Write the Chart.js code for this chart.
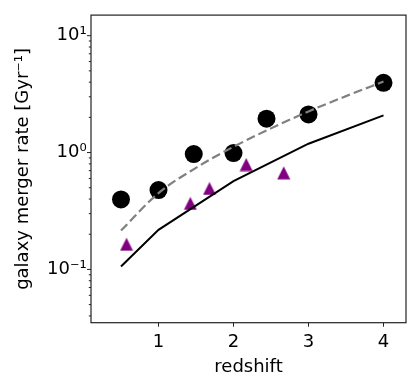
<!DOCTYPE html>
<html>
<head>
<meta charset="utf-8">
<script src="https://cdn.jsdelivr.net/npm/chart.js@4"></script>
<style>
  html, body { margin: 0; padding: 0; background: #fff; }
  #wrap { width: 415px; height: 380px; }
</style>
</head>
<body>
<div id="wrap"><canvas id="canvas" width="415" height="380"></canvas></div>
<script>
// observed merger rates (circles)
const obsZ = [0.5, 1.0, 1.47, 2.0, 2.44, 3.0, 4.0];
const obsRate = [0.397, 0.477, 0.97, 0.99, 1.95, 2.12, 3.95];
// second sample (purple triangles)
const triZ = [0.574, 1.425, 1.68, 2.17, 2.67];
const triRate = [0.164, 0.367, 0.493, 0.79, 0.67];
// model curves
const solidZ = [0.5, 1.0, 2.0, 3.0, 4.0];
const solidRate = [0.106, 0.218, 0.57, 1.19, 2.08];
const dashedZ = [0.5, 1.0, 1.5, 2.0, 2.5, 3.0, 3.5, 4.0];
const dashedRate = [0.215, 0.45, 0.74, 1.12, 1.61, 2.25, 3.04, 4.05];
// ticks
const xTicks = [1, 2, 3, 4];
const yTicks = [0.04, 0.05, 0.06, 0.07, 0.08, 0.09,
                0.1, 0.2, 0.3, 0.4, 0.5, 0.6, 0.7, 0.8, 0.9,
                1, 2, 3, 4, 5, 6, 7, 8, 9, 10];
const yMajor = [0.1, 1, 10];
const yMajorLabels = ['10\u207B\u00B9', '10\u2070', '10\u00B9'];

const FONT = "'DejaVu Sans', sans-serif";

function pts(xs, ys) {
    return xs.map((x, i) => ({ x: x, y: ys[i] }));
}

// matplotlib style '^' marker
function triangleMarker(color) {
    const c = document.createElement('canvas');
    c.width = 14;
    c.height = 14;
    const g = c.getContext('2d');
    g.fillStyle = color;
    g.beginPath();
    g.moveTo(7, 0.5);
    g.lineTo(0.5, 13.5);
    g.lineTo(13.5, 13.5);
    g.closePath();
    g.fill();
    return c;
}

// frame + tick marks, matplotlib look
const axesFrame = {
    id: 'axesFrame',
    afterDraw(chart) {
        const ctx = chart.ctx;
        const a = chart.chartArea;
        const xs = chart.scales.x;
        const ys = chart.scales.y;
        ctx.save();
        ctx.strokeStyle = '#222';
        ctx.lineWidth = 1;
        ctx.beginPath();
        xs.ticks.forEach(t => {
            const px = xs.getPixelForValue(t.value);
            ctx.moveTo(px, a.bottom);
            ctx.lineTo(px, a.bottom + 4);
        });
        ys.ticks.forEach(t => {
            const py = ys.getPixelForValue(t.value);
            const len = yMajor.includes(t.value) ? 4 : 2.2;
            ctx.moveTo(a.left, py);
            ctx.lineTo(a.left - len, py);
        });
        ctx.stroke();
        ctx.lineWidth = 1.2;
        ctx.strokeRect(a.left, a.top, a.right - a.left, a.bottom - a.top);
        ctx.restore();
    }
};

const ctx = document.getElementById('canvas').getContext('2d');
new Chart(ctx, {
    type: 'scatter',
    data: {
        datasets: [
            {
                label: 'model dashed',
                data: pts(dashedZ, dashedRate),
                showLine: true,
                cubicInterpolationMode: 'monotone',
                borderColor: '#808080',
                borderWidth: 2.2,
                borderDash: [9, 4],
                pointRadius: 0,
                order: 0
            },
            {
                label: 'model',
                data: pts(solidZ, solidRate),
                showLine: true,
                borderColor: '#000',
                borderWidth: 2,
                pointRadius: 0,
                order: 1
            },
            {
                label: 'triangles',
                data: pts(triZ, triRate),
                pointStyle: triangleMarker('#800080'),
                pointRadius: 7,
                order: 2
            },
            {
                label: 'observed',
                data: pts(obsZ, obsRate),
                pointStyle: 'circle',
                pointRadius: 9,
                backgroundColor: '#000',
                borderColor: '#000',
                borderWidth: 0,
                order: 3
            }
        ]
    },
    options: {
        responsive: false,
        animation: false,
        layout: { padding: { left: 0, right: 8.5, top: 14.5, bottom: 0 } },
        plugins: {
            legend: { display: false },
            tooltip: { enabled: false }
        },
        scales: {
            x: {
                type: 'linear',
                min: 0.1,
                max: 4.3,
                grid: { display: false, drawTicks: false },
                border: { display: false },
                afterBuildTicks: s => { s.ticks = xTicks.map(v => ({ value: v })); },
                afterFit: s => { s.height = 57.3; },
                ticks: {
                    autoSkip: false,
                    maxRotation: 0,
                    padding: 8.6,
                    color: '#000',
                    font: { family: FONT, size: 18 },
                    callback: v => String(v)
                },
                title: {
                    display: true,
                    text: 'redshift',
                    color: '#000',
                    font: { family: FONT, size: 18 },
                    padding: { top: 0, bottom: 2.1 }
                }
            },
            y: {
                type: 'logarithmic',
                min: 0.035,
                max: 15,
                grid: { display: false, drawTicks: false },
                border: { display: false },
                afterBuildTicks: s => { s.ticks = yTicks.map(v => ({ value: v })); },
                afterFit: s => { s.width = 91; },
                ticks: {
                    autoSkip: false,
                    padding: 4.3,
                    color: '#000',
                    font: { family: FONT, size: 18 },
                    callback: v => {
                        const i = yMajor.indexOf(v);
                        return i >= 0 ? yMajorLabels[i] : '';
                    }
                },
                title: {
                    display: true,
                    text: 'galaxy merger rate [Gyr\u207B\u00B9]',
                    color: '#000',
                    font: { family: FONT, size: 18 },
                    padding: { top: 13, bottom: 0 }
                }
            }
        }
    },
    plugins: [axesFrame]
});
</script>
</body>
</html>
